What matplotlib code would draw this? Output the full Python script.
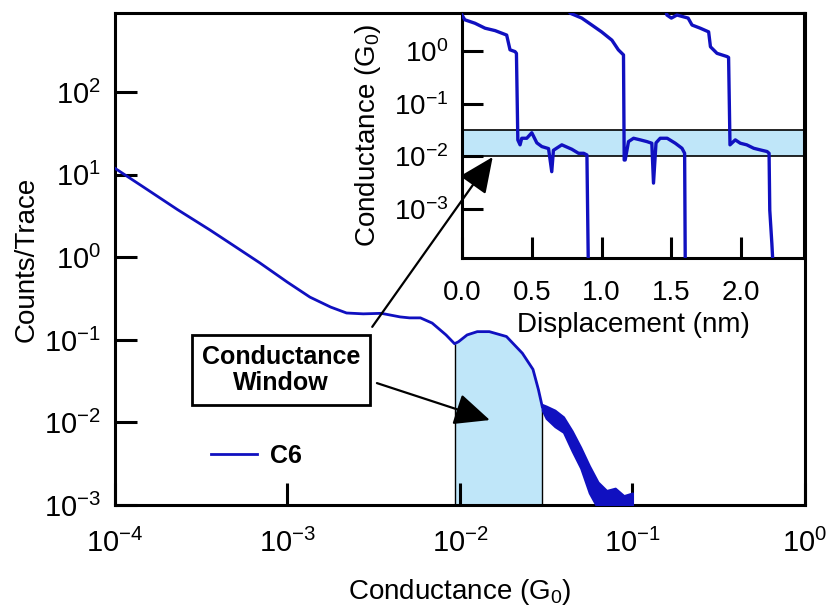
import matplotlib
matplotlib.use('Agg')
import matplotlib.pyplot as plt
from matplotlib.ticker import LogLocator, NullLocator, FixedLocator
import numpy as np

plt.rcParams['font.family'] = ['Liberation Sans', 'DejaVu Sans']
plt.rcParams['mathtext.fontset'] = 'custom'
plt.rcParams['mathtext.rm'] = 'Liberation Sans'
plt.rcParams['mathtext.it'] = 'Liberation Sans:italic'
plt.rcParams['mathtext.bf'] = 'Liberation Sans:bold'

# conductance histogram (C6), smooth part
hist_g = [1.0e-4, 1.45e-4, 2.3e-4, 3.55e-4, 4.8e-4, 6.9e-4, 1.0e-3, 1.35e-3, 1.78e-3,
          2.2e-3, 2.75e-3, 3.5e-3, 4.5e-3, 5.1e-3, 5.9e-3, 6.9e-3, 8.3e-3, 9.3e-3,
          9.8e-3, 1.1e-2, 1.26e-2, 1.48e-2, 1.86e-2, 2.3e-2, 2.65e-2, 2.85e-2, 3.0e-2]
hist_counts = [12.0, 7.2, 3.8, 2.15, 1.42, 0.86, 0.5, 0.33, 0.25,
               0.212, 0.207, 0.21, 0.19, 0.185, 0.185, 0.16, 0.115, 0.09,
               0.095, 0.115, 0.126, 0.126, 0.11, 0.069, 0.044, 0.025, 0.0155]

# noisy tail, upper / lower envelope
tail_g = [0.030, 0.0316, 0.0355, 0.0398, 0.0447, 0.0501, 0.0562, 0.0631, 0.0708, 0.0794, 0.0891, 0.1]
tail_hi = [0.0165, 0.0158, 0.0141, 0.0117, 0.0079, 0.0050, 0.0030, 0.0019, 0.0015, 0.0016, 0.0013, 0.0014]
tail_lo = [0.0140, 0.0112, 0.0089, 0.0076, 0.0045, 0.0028, 0.0014, 0.0009, 0.0009, 0.0009, 0.0009, 0.0009]

window = [9.3e-3, 3.0e-2]
band = [0.01, 0.031]

# individual traces for the inset
tr1_d = [0.0, 0.02, 0.093, 0.165, 0.237, 0.32, 0.344, 0.38, 0.39, 0.40, 0.416, 0.428, 0.464,
         0.50, 0.536, 0.572, 0.62, 0.643, 0.655, 0.715, 0.787, 0.835, 0.872, 0.895, 0.906]
tr1_g = [4.8, 3.9, 3.35, 2.7, 2.43, 2.0, 1.05, 0.97, 0.9, 0.0204, 0.0165, 0.022, 0.022,
         0.028, 0.018, 0.0153, 0.014, 0.0051, 0.013, 0.0165, 0.0136, 0.0114, 0.0114, 0.0106, 5e-5]
tr2_d = [0.76, 0.775, 0.858, 0.93, 1.0, 1.074, 1.12, 1.157, 1.162, 1.169, 1.193, 1.229, 1.277,
         1.325, 1.36, 1.372, 1.39, 1.42, 1.47, 1.528, 1.576, 1.595, 1.60]
tr2_g = [6.0, 5.2, 4.2, 3.1, 2.3, 1.6, 1.05, 0.84, 0.0085, 0.0085, 0.019, 0.022, 0.0205,
         0.019, 0.0177, 0.0031, 0.018, 0.022, 0.022, 0.0177, 0.0142, 0.0114, 5e-5]
tr3_d = [1.46, 1.468, 1.50, 1.54, 1.62, 1.648, 1.707, 1.767, 1.78, 1.827, 1.9, 1.91, 1.92,
         1.958, 1.994, 2.04, 2.09, 2.138, 2.186, 2.2, 2.205, 2.22, 2.233]
tr3_g = [6.0, 4.8, 4.2, 4.8, 4.2, 3.1, 2.7, 2.3, 1.2, 0.9, 0.78, 0.75, 0.0165,
         0.0205, 0.0177, 0.0165, 0.0142, 0.0132, 0.0123, 0.0114, 0.00095, 2.2e-4, 5e-5]

blue = '#1010c0'
light = '#bfe6f9'

fig = plt.figure(figsize=(8.29, 6.07), dpi=100)
ax = fig.add_axes([0.1387, 0.168, 0.8323, 0.8105])

ax.plot(hist_g, hist_counts, color=blue, lw=2.0, zorder=3, label='C6')
ax.fill_between(tail_g, tail_lo, tail_hi, color=blue, lw=1.5, edgecolor=blue, zorder=3)
g = np.array(hist_g)
ax.fill_between(hist_g, 1e-4, hist_counts, where=(g >= window[0]) & (g <= window[1]),
                color=light, lw=0, zorder=1)
ax.vlines(window, 1e-4, [hist_counts[hist_g.index(w)] for w in window], color='black', lw=1.0, zorder=2)

ax.set_xscale('log')
ax.set_yscale('log')
ax.set_xlim(1e-4, 1)
ax.set_ylim(1e-3, 10 ** 2.96)
ax.xaxis.set_major_locator(LogLocator(base=10, numticks=10))
ax.yaxis.set_major_locator(LogLocator(base=10, numticks=10))
ax.xaxis.set_minor_locator(NullLocator())
ax.yaxis.set_minor_locator(NullLocator())
ax.tick_params(direction='in', length=16, width=2.2, labelsize=21, pad=17)
ax.tick_params(axis='y', pad=10)
for s in ax.spines.values():
    s.set_linewidth(2.2)
ax.set_xlabel('Conductance (G$_0$)', fontsize=20, labelpad=14)
ax.set_ylabel('Counts/Trace', fontsize=20, labelpad=3)

ax.legend(loc='center left', bbox_to_anchor=(0.139, 0.0996), frameon=False,
          borderpad=0, borderaxespad=0, handlelength=1.85, handletextpad=0.5,
          prop={'weight': 'bold', 'size': 18})

ax.text(9.2e-4, 0.0433, 'Conductance\nWindow', fontsize=18, fontweight='bold',
        ha='center', va='center', linespacing=1.15, zorder=5,
        bbox=dict(boxstyle='square,pad=0.4', fc='white', ec='black', lw=2))
ax.annotate('', xy=(0.0149, 0.0107), xytext=(0.0033, 0.030),
            arrowprops=dict(arrowstyle='-|>,head_length=1.0,head_width=0.45',
                            color='black', lw=1.6, mutation_scale=22, shrinkA=0, shrinkB=0))

# inset with single traces
axi = fig.add_axes([0.5573, 0.575, 0.4125, 0.4036])
axi.set_facecolor('white')
axi.axhspan(band[0], band[1], color=light, lw=0, zorder=1)
for b in band:
    axi.axhline(b, color='black', lw=1.2, zorder=2)
for d, c in [(tr1_d, tr1_g), (tr2_d, tr2_g), (tr3_d, tr3_g)]:
    axi.plot(d, c, color=blue, lw=2.4, zorder=3)
axi.set_yscale('log')
axi.set_xlim(0, 2.45)
axi.set_ylim(10 ** -3.93, 10 ** 0.72)
axi.xaxis.set_major_locator(FixedLocator([0.0, 0.5, 1.0, 1.5, 2.0]))
axi.xaxis.set_major_formatter(plt.FormatStrFormatter('%.1f'))
axi.yaxis.set_major_locator(FixedLocator([1e-3, 1e-2, 1e-1, 1e0]))
axi.yaxis.set_minor_locator(NullLocator())
axi.tick_params(direction='in', length=15, width=2.2, labelsize=20, pad=16)
axi.tick_params(axis='y', pad=10)
for s in axi.spines.values():
    s.set_linewidth(2.2)
axi.set_xlabel('Displacement (nm)', fontsize=20, labelpad=4)
axi.set_ylabel('Conductance (G$_0$)', fontsize=20, labelpad=8)

axi.annotate('', xy=(0.22, 0.0097), xycoords='data', xytext=(0.0031, 0.144),
             textcoords=ax.transData,
             arrowprops=dict(arrowstyle='-|>,head_length=1.0,head_width=0.45',
                             color='black', lw=1.6, mutation_scale=22, shrinkA=0, shrinkB=0))

fig.savefig('out.png', dpi=100)
